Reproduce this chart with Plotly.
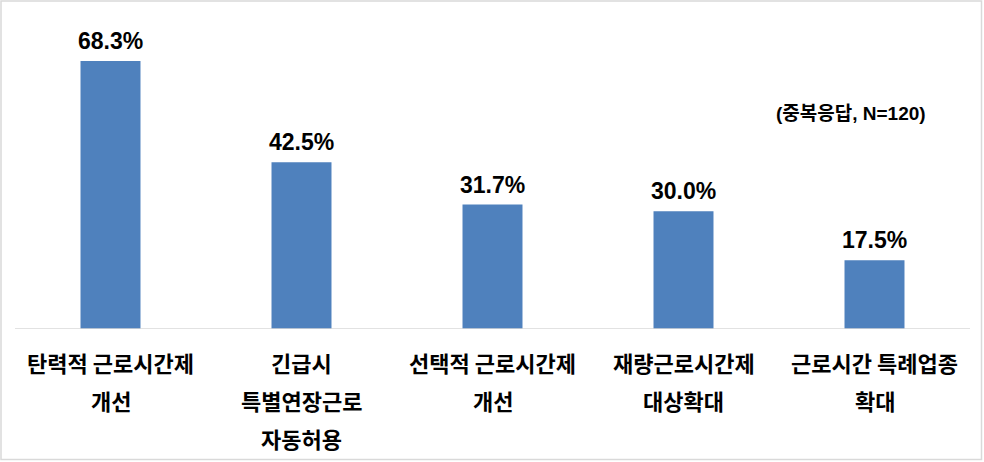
import plotly.graph_objects as go

categories = ["탄력적 근로시간제<br>개선", "긴급시<br>특별연장근로<br>자동허용", "선택적 근로시간제<br>개선",
              "재량근로시간제<br>대상확대", "근로시간 특례업종<br>확대"]
values = [68.3, 42.5, 31.7, 30.0, 17.5]
value_labels = ["68.3%", "42.5%", "31.7%", "30.0%", "17.5%"]
note = "(중복응답, N=120)"

W, H = 984, 462
L, R, T, B = 15, 14, 15, 133  # plot area 15..970 x, 15..329 y
pw = W - L - R
ph = H - T - B

def px2x(p):
    return (p - L) / pw

def py2y(p):
    return (H - B - p) / ph

fig = go.Figure()
fig.add_trace(go.Bar(
    x=list(range(len(categories))), y=values,
    marker=dict(color="#4F81BD", line=dict(width=0)),
    width=0.314, hoverinfo="skip",
))

ann = []
for i, (v, lab) in enumerate(zip(values, value_labels)):
    ann.append(dict(x=i, y=v, xref="x", yref="y", text=f"<b>{lab}</b>", showarrow=False,
                    yanchor="bottom", yshift=5,
                    font=dict(family="Liberation Sans, Arial", size=23, color="#000000")))
    for j, line in enumerate(categories[i].split("<br>")):
        ann.append(dict(x=i, y=py2y(362 + 38 * j), xref="x", yref="paper", text=f"<b>{line}</b>",
                        showarrow=False, yanchor="middle",
                        font=dict(family="Noto Sans CJK KR", size=22, color="#000000")))

ann.append(dict(x=px2x(851), y=py2y(113), xref="paper", yref="paper", text=f"<b>{note}</b>",
                showarrow=False, xanchor="center", yanchor="middle",
                font=dict(family="Liberation Sans, Noto Sans CJK KR", size=19, color="#000000")))

shapes = [
    dict(type="line", xref="paper", yref="y", x0=0, x1=1, y0=0, y1=0,
         line=dict(color="#D9D9D9", width=1.5), layer="above"),
    dict(type="rect", xref="paper", yref="paper", x0=px2x(1), x1=px2x(981.5), y0=py2y(1), y1=py2y(459.5),
         line=dict(color="#D9D9D9", width=1.5)),
]

fig.update_layout(
    width=W, height=H,
    margin=dict(l=L, r=R, t=T, b=B),
    paper_bgcolor="white", plot_bgcolor="white",
    showlegend=False,
    xaxis=dict(range=[-0.5, 4.5], showticklabels=False, showgrid=False, zeroline=False, showline=False),
    yaxis=dict(range=[0, 80], showticklabels=False, showgrid=False, zeroline=False, showline=False),
    annotations=ann, shapes=shapes,
)

fig.write_html("out.html", config={"displayModeBar": False},
               post_script="document.body.style.margin='0';document.body.style.overflow='hidden';")
